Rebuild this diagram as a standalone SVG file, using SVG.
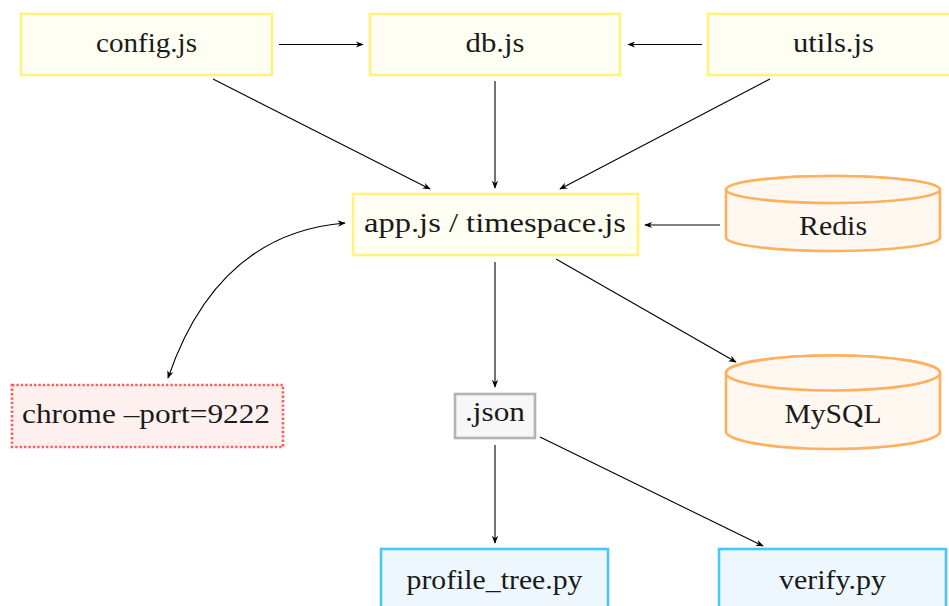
<svg xmlns="http://www.w3.org/2000/svg" width="949" height="606" viewBox="0 0 949 606">
  <style>
    text { font-family: "Liberation Serif", "DejaVu Serif", serif; font-size: 28px; fill: #1a1a1a; text-anchor: middle; }
    .js { fill: #fffef3; stroke: #fff27e; stroke-width: 2.6; }
    .db { fill: #fff8f1; stroke: #ffb05e; stroke-width: 2.6; }
    .ext { fill: #fff0f0; stroke: #ff5c5c; stroke-width: 2.6; stroke-dasharray: 2.4 2; }
    .data { fill: #f7f7f7; stroke: #b3b3b3; stroke-width: 2.6; }
    .py { fill: #eef7fd; stroke: #47c8f2; stroke-width: 2.6; }
    .edge { fill: none; stroke: #000; stroke-width: 1.1; marker-end: url(#arrow); }
  </style>
  <defs>
    <marker id="arrow" viewBox="0 0 10 10" refX="9" refY="5" markerWidth="8" markerHeight="8" markerUnits="userSpaceOnUse" orient="auto-start-reverse">
      <path d="M0,1 L10,5 L0,9 L3,5 z" fill="#000"/>
    </marker>
  </defs>

  <rect width="949" height="606" fill="#fff"/>

  <!-- connectors -->
  <g id="edges">
    <path class="edge" d="M279,44.5 L363,44.5"/>
    <path class="edge" d="M702,44.5 L628,44.5"/>
    <path class="edge" d="M213,79 L430,189"/>
    <path class="edge" d="M495,81 L495,188"/>
    <path class="edge" d="M770,79 L560,189"/>
    <path class="edge" d="M720,225 L645,225"/>
    <path class="edge" d="M556,259 L736,362"/>
    <path class="edge" d="M495,262 L495,387"/>
    <!-- two-way link between the app and the browser -->
    <path class="edge" d="M168,378 Q217.5,233.5 345,223" marker-start="url(#arrow)"/>
    <path class="edge" d="M495,445 L495,543"/>
    <path class="edge" d="M540,437 L763,546"/>
  </g>

  <!-- nodes -->
  <g id="config">
    <rect class="js" x="21" y="14" width="251" height="61"/>
    <text x="146.5" y="52" textLength="101" lengthAdjust="spacingAndGlyphs">config.js</text>
  </g>
  <g id="db">
    <rect class="js" x="370" y="14" width="250" height="61"/>
    <text x="495" y="52" textLength="59" lengthAdjust="spacingAndGlyphs">db.js</text>
  </g>
  <g id="utils">
    <rect class="js" x="708" y="14" width="251" height="61"/>
    <text x="833.5" y="52" textLength="81" lengthAdjust="spacingAndGlyphs">utils.js</text>
  </g>
  <g id="app">
    <rect class="js" x="353" y="194" width="285" height="61"/>
    <text x="495" y="232" textLength="262" lengthAdjust="spacingAndGlyphs">app.js / timespace.js</text>
  </g>
  <g id="redis">
    <path class="db" d="M726,189.5 A107,13.5 0 0 1 940,189.5 L940,237.5 A107,13.5 0 0 1 726,237.5 Z"/>
    <ellipse class="db" cx="833" cy="189.5" rx="107" ry="13.5"/>
    <text x="833" y="235" textLength="68" lengthAdjust="spacingAndGlyphs">Redis</text>
  </g>
  <g id="chrome">
    <rect class="ext" x="12" y="385" width="271" height="62"/>
    <text x="146" y="423" textLength="248" lengthAdjust="spacingAndGlyphs">chrome –port=9222</text>
  </g>
  <g id="json">
    <rect class="data" x="455" y="394" width="80" height="44"/>
    <text x="495" y="421" textLength="60" lengthAdjust="spacingAndGlyphs">.json</text>
  </g>
  <g id="mysql">
    <path class="db" d="M726,373 A107,17.5 0 0 1 940,373 L940,431.5 A107,17.5 0 0 1 726,431.5 Z"/>
    <ellipse class="db" cx="833" cy="373" rx="107" ry="17.5"/>
    <text x="833" y="423" textLength="97" lengthAdjust="spacingAndGlyphs">MySQL</text>
  </g>
  <g id="profile_tree">
    <rect class="py" x="381" y="549" width="227" height="70"/>
    <text x="494.5" y="589" textLength="176" lengthAdjust="spacingAndGlyphs">profile_tree.py</text>
  </g>
  <g id="verify">
    <rect class="py" x="719" y="549" width="227" height="70"/>
    <text x="832.5" y="589" textLength="107" lengthAdjust="spacingAndGlyphs">verify.py</text>
  </g>
</svg>
